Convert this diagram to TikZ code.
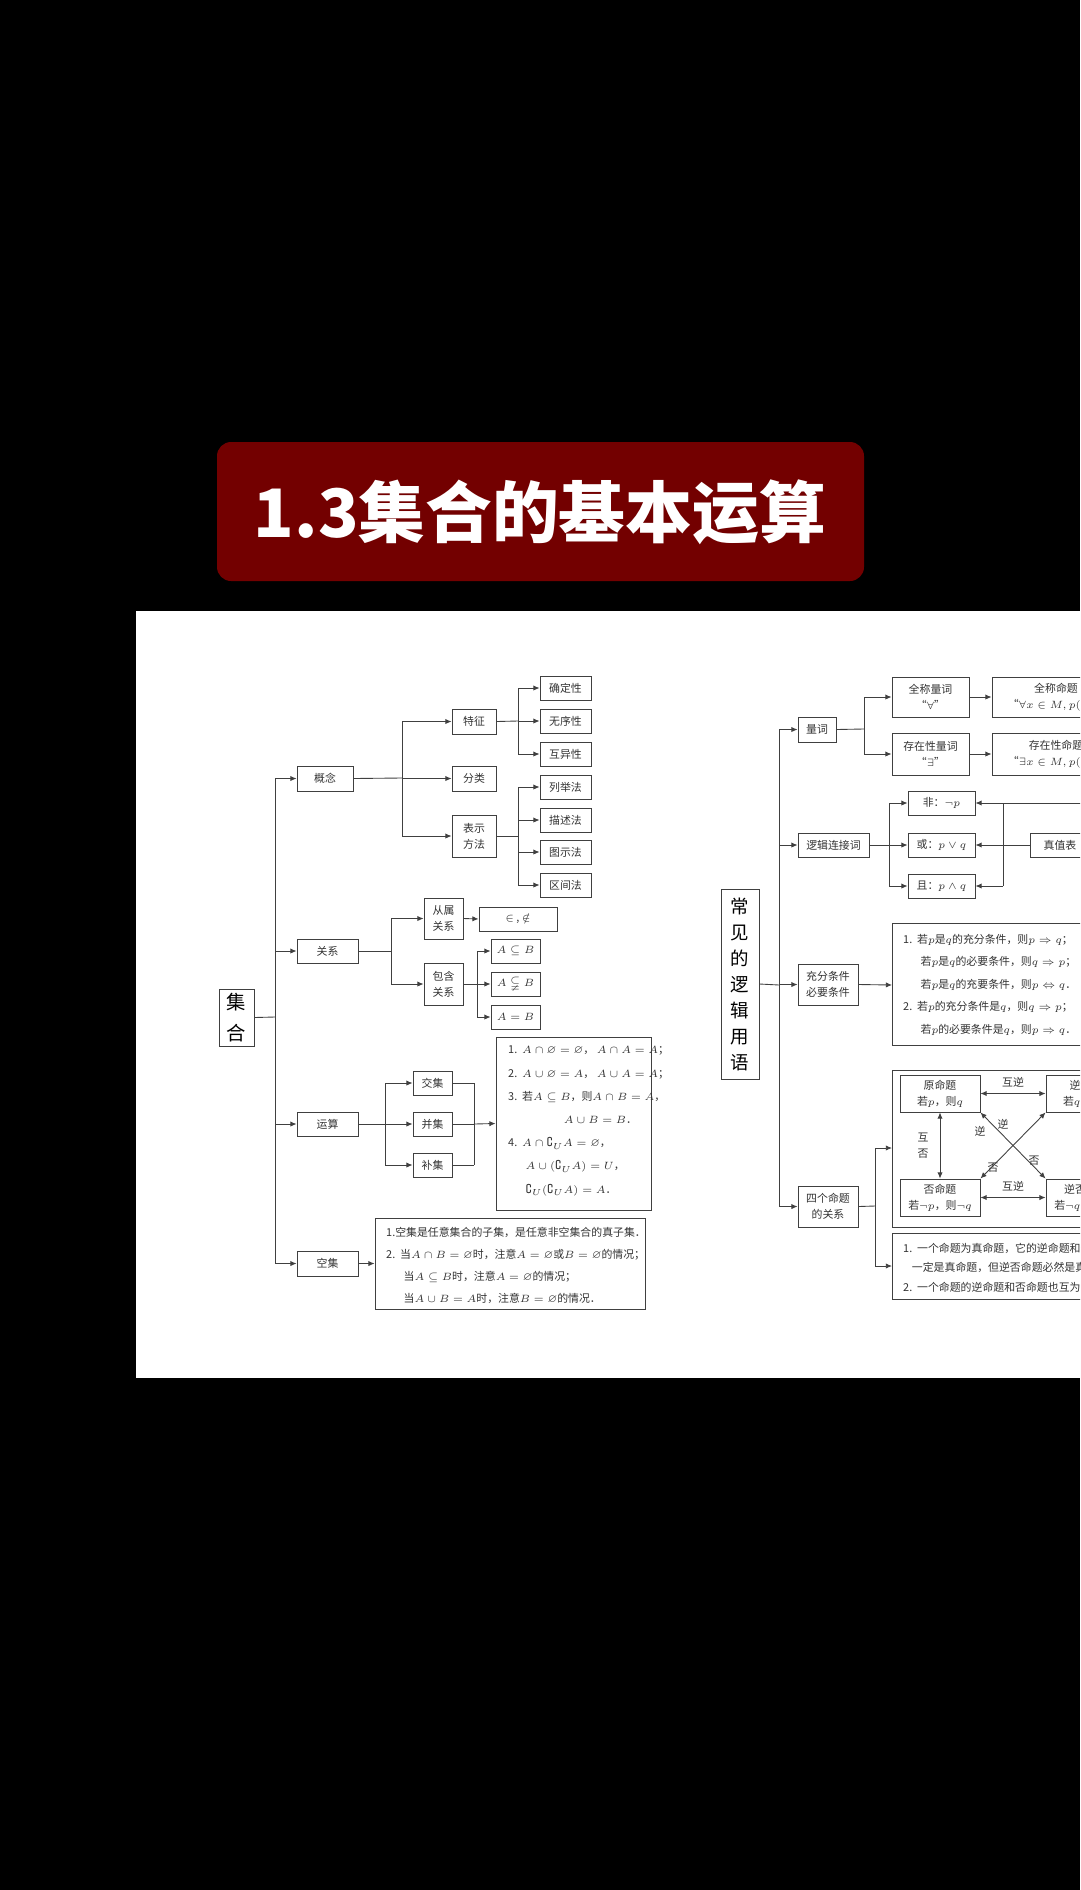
\documentclass[tikz,border=0pt]{standalone}
\usepackage{amssymb}
\usepackage{fontspec}
\setmainfont{Noto Sans CJK SC}
\usetikzlibrary{arrows.meta,fit}
\tikzset{
  box/.style={draw=black!75, line width=0.5pt, inner sep=0pt},
  lbl/.style={align=center, font=\fontsize{6.2}{9}\selectfont, text=black!80},
  big/.style={font=\fontsize{11}{18}\selectfont, text=black},
  arr/.style={-{Latex[length=3.5pt,width=3pt]}, black!75, line width=0.5pt},
  dbl/.style={{Latex[length=3.5pt,width=3pt]}-{Latex[length=3.5pt,width=3pt]}, black!75, line width=0.5pt},
  ln/.style={black!75, line width=0.5pt},
}
% box from its corners, text in the middle
\newcommand\nbx[6]{\node[box,fit={(#3,#4)(#5,#6)},label={[lbl]center:{#2}}] (#1) {};}
\begin{document}
\begin{tikzpicture}[x=0.02cm,y=-0.02cm]
  \fill[black] (0,0) rectangle (1080,1890);
  \useasboundingbox (0,0) rectangle (1080,1890);
  \clip (0,0) rectangle (1080,1890);
  % title
  \fill[red!45!black, rounded corners=8pt] (217,442) rectangle (864,581);
  \node[text=white, font=\fontsize{38}{40}\bfseries] (title) at (540,512) {1.3集合的基本运算};
  \fill[white] (136,611) rectangle (1080,1378);

  % ---- left: sets
  \node[box,fit={(219,989)(254,1046)},label={[lbl,big]center:{集\\合}}] (jh) {};
  \nbx{gn}{概念}{297}{766}{353}{791}
  \nbx{gx}{关系}{297}{939}{358}{963}
  \nbx{ys}{运算}{297}{1112}{358}{1136}
  \nbx{kj}{空集}{297}{1251}{358}{1276}
  \draw[ln] (jh.east) -- (275,1017);
  \draw[ln] (275,778) -- (275,1264);
  \foreach \n in {gn,gx,ys,kj} \draw[arr] (275,0 |- \n.west) -- (\n.west);

  \nbx{tz}{特征}{452}{709}{496}{734}
  \nbx{fl}{分类}{452}{766}{496}{791}
  \nbx{bs}{表示\\方法}{452}{815}{496}{857}
  \draw[ln] (gn.east) -- (402,778);
  \draw[ln] (402,721) -- (402,836);
  \foreach \n in {tz,fl,bs} \draw[arr] (402,0 |- \n.west) -- (\n.west);

  \nbx{qd}{确定性}{540}{676}{591}{700}
  \nbx{wx}{无序性}{540}{709}{591}{733}
  \nbx{hy}{互异性}{540}{742}{591}{766}
  \nbx{lj}{列举法}{540}{775}{591}{799}
  \nbx{ms}{描述法}{540}{808}{591}{832}
  \nbx{ts}{图示法}{540}{840}{591}{864}
  \nbx{qj}{区间法}{540}{873}{591}{897}
  \draw[ln] (tz.east) -- (518,721);
  \draw[ln] (518,688) -- (518,754);
  \draw[ln] (bs.east) -- (518,836);
  \draw[ln] (518,787) -- (518,885);
  \foreach \n in {qd,wx,hy,lj,ms,ts,qj} \draw[arr] (518,0 |- \n.west) -- (\n.west);

  \nbx{cs}{从属\\关系}{424}{898}{463}{939}
  \nbx{bh}{包含\\关系}{424}{963}{463}{1005}
  \draw[ln] (gx.east) -- (391,951);
  \draw[ln] (391,918) -- (391,984);
  \foreach \n in {cs,bh} \draw[arr] (391,0 |- \n.west) -- (\n.west);
  \nbx{sy}{$\in$ , $\notin$}{479}{907}{557}{931}
  \draw[arr] (cs.east) -- (sy.west);
  \nbx{zj}{$A\subseteq B$}{491}{939}{540}{963}
  \nbx{zz}{$A\subsetneqq B$}{491}{972}{540}{996}
  \nbx{xd}{$A=B$}{491}{1005}{540}{1029}
  \draw[ln] (bh.east) -- (477,984);
  \draw[ln] (477,951) -- (477,1017);
  \foreach \n in {zj,zz,xd} \draw[arr] (477,0 |- \n.west) -- (\n.west);

  \nbx{jj}{交集}{413}{1071}{452}{1095}
  \nbx{bj}{并集}{413}{1112}{452}{1136}
  \nbx{buj}{补集}{413}{1153}{452}{1177}
  \draw[ln] (ys.east) -- (385,1124);
  \draw[ln] (385,1083) -- (385,1165);
  \foreach \n in {jj,bj,buj} {
    \draw[arr] (385,0 |- \n.west) -- (\n.west);
    \draw[ln] (\n.east) -- (474,0 |- \n.east);
  }
  \draw[ln] (474,1083) -- (474,1165);
  \node[box, fit={(496,1037)(651,1210)}] (ysgs) {};
  \draw[arr] (474,1124) -- (ysgs.west);
  \node[lbl, anchor=north west, align=left, font=\fontsize{6.2}{13.2}\selectfont] (ystx) at (502,1040) {
    1.\ \ $A\cap\varnothing=\varnothing$，\ $A\cap A=A$；\\
    2.\ \ $A\cup\varnothing=A$，\ $A\cup A=A$；\\
    3.\ \ 若$A\subseteq B$，则$A\cap B=A$，\\
    \hspace{5.1em}$A\cup B=B$．\\
    4.\ \ $A\cap\complement_U A=\varnothing$，\\
    \hspace{1.6em}$A\cup(\complement_U A)=U$，\\
    \hspace{1.6em}$\complement_U(\complement_U A)=A$．};
  \node[box, fit={(375,1218)(645,1309)}] (kjgs) {};
  \draw[arr] (kj.east) -- (kjgs.west);
  \node[lbl, anchor=north west, align=left, font=\fontsize{6.2}{12.6}\selectfont] (kjtx) at (380,1221) {
    1.空集是任意集合的子集，是任意非空集合的真子集．\\
    2.\ \ 当$A\cap B=\varnothing$时，注意$A=\varnothing$或$B=\varnothing$的情况；\\
    \hspace{1.6em}当$A\subseteq B$时，注意$A=\varnothing$的情况；\\
    \hspace{1.6em}当$A\cup B=A$时，注意$B=\varnothing$的情况．};

  % ---- right: logic
  \node[box,fit={(721,889)(759,1079)},label={[lbl,big,font=\fontsize{10.5}{14.8}\selectfont]center:{常\\见\\的\\逻\\辑\\用\\语}}] (lo) {};
  \nbx{lc}{量词}{798}{717}{836}{742}
  \nbx{lj2}{逻辑连接词}{798}{833}{869}{857}
  \nbx{cf}{充分条件\\必要条件}{798}{964}{858}{1005}
  \nbx{sg}{四个命题\\的关系}{798}{1186}{858}{1227}
  \draw[ln] (lo.east) -- (779,985);
  \draw[ln] (779,729) -- (779,1206);
  \foreach \n in {lc,lj2,cf,sg} \draw[arr] (779,0 |- \n.west) -- (\n.west);

  \nbx{qc}{全称量词\\“$\forall$”}{892}{677}{969}{717}
  \nbx{cz}{存在性量词\\“$\exists$”}{892}{733}{969}{775}
  \draw[ln] (lc.east) -- (864,729);
  \draw[ln] (864,697) -- (864,754);
  \foreach \n in {qc,cz} \draw[arr] (864,0 |- \n.west) -- (\n.west);
  \nbx{qm}{全称命题\\“$\forall x\in M,p(x)$”}{992}{677}{1120}{717}
  \nbx{cm}{存在性命题\\“$\exists x\in M,p(x)$”}{992}{733}{1120}{775}
  \draw[arr] (qc.east) -- (qm.west);
  \draw[arr] (cz.east) -- (cm.west);

  \nbx{fei}{非：$\neg p$}{908}{791}{975}{815}
  \nbx{huo}{或：$p\vee q$}{908}{833}{975}{857}
  \nbx{qie}{且：$p\wedge q$}{908}{874}{975}{898}
  \draw[ln] (lj2.east) -- (889,845);
  \draw[ln] (889,803) -- (889,886);
  \foreach \n in {fei,huo,qie} \draw[arr] (889,0 |- \n.west) -- (\n.west);
  \nbx{zb}{真值表}{1030}{833}{1090}{857}
  \draw[ln] (1003,803) -- (1003,886);
  \draw[ln] (zb.west) -- (1003,845);
  \draw[ln] (1003,803) -- (1090,803);
  \foreach \n in {fei,huo,qie} \draw[arr] (1003,0 |- \n.east) -- (\n.east);

  \node[box, fit={(892,923)(1200,1045)}] (cfgs) {};
  \draw[arr] (cf.east) -- (892,985);
  \node[lbl, anchor=north west, align=left, font=\fontsize{6.2}{12.8}\selectfont] (cftx) at (897,928) {
    1.\ \ 若$p$是$q$的充分条件，则$p\Rightarrow q$；\\
    \hspace{1.6em}若$p$是$q$的必要条件，则$q\Rightarrow p$；\\
    \hspace{1.6em}若$p$是$q$的充要条件，则$p\Leftrightarrow q$．\\
    2.\ \ 若$p$的充分条件是$q$，则$q\Rightarrow p$；\\
    \hspace{1.6em}若$p$的必要条件是$q$，则$p\Rightarrow q$．};

  \node[box, fit={(892,1070)(1200,1227)}] (gxt) {};
  \node[box, fit={(892,1233)(1200,1299)}] (gxs) {};
  \draw[ln] (sg.east) -- (875,1206);
  \draw[ln] (875,1148) -- (875,1266);
  \draw[arr] (875,1148) -- (892,1148);
  \draw[arr] (875,1266) -- (892,1266);
  \nbx{ym}{原命题\\若$p$，则$q$}{900}{1075}{980}{1112}
  \nbx{nm}{逆命题\\若$q$，则$p$}{1046}{1075}{1126}{1112}
  \nbx{fm}{否命题\\若$\neg p$，则$\neg q$}{900}{1179}{980}{1216}
  \nbx{nf}{逆否命题\\若$\neg q$，则$\neg p$}{1046}{1179}{1126}{1216}
  \draw[dbl] (ym.east) -- node[lbl, above] {互逆} (nm.west);
  \draw[dbl] (fm.east) -- node[lbl, above] {互逆} (nf.west);
  \draw[dbl] (ym.south) -- node[lbl, left=3pt] {互\\否} (fm.north);
  \draw[dbl] (ym.south east) -- (nf.north west);
  \draw[dbl] (fm.north east) -- (nm.south west);
  \node[lbl] (d1) at (980,1131) {逆};
  \node[lbl] (d2) at (1003,1124) {逆};
  \node[lbl] (d3) at (1034,1161) {否};
  \node[lbl] (d4) at (993,1168) {否};
  \node[lbl, anchor=north west, align=left, font=\fontsize{6.2}{11}\selectfont] (sgtx) at (897,1237) {
    1.\ \ 一个命题为真命题，它的逆命题和否命题不\\
    \hspace{0.8em}一定是真命题，但逆否命题必然是真命题．\\
    2.\ \ 一个命题的逆命题和否命题也互为逆否命题．};
\end{tikzpicture}
\end{document}
